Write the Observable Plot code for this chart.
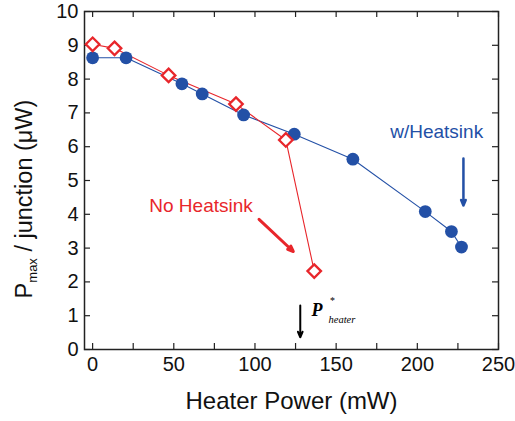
<!DOCTYPE html>
<html><head><meta charset="utf-8">
<script src="https://cdn.jsdelivr.net/npm/d3@7"></script>
<script src="https://cdn.jsdelivr.net/npm/@observablehq/plot@0.6"></script>
<style>body{margin:0;background:#fff}</style>
</head><body><div id="chart"></div>
<script>
// Data
const heatsinkPower = [0, 20.6, 55, 67.5, 93, 124.2, 160.3, 204.9, 221, 227.2];
const heatsinkPmax  = [8.63, 8.63, 7.86, 7.56, 6.94, 6.37, 5.63, 4.08, 3.49, 3.03];
const noHeatsinkPower = [0, 13.5, 46.8, 88.3, 119, 136.5];
const noHeatsinkPmax  = [9.03, 8.91, 8.11, 7.26, 6.2, 2.32];

const xTicks = [0, 25, 50, 75, 100, 125, 150, 175, 200, 225, 250];
const xTickLabels = [0, 50, 100, 150, 200, 250];
const yTicks = [0, 1, 2, 3, 4, 5, 6, 7, 8, 9, 10];

const xLabel = "Heater Power (mW)";
// annotation anchors (data coordinates)
const labelTexts = ["No Heatsink", "w/Heatsink"];
const labelX = [34.9, 183.3];
const labelY = [4.25, 6.43];
const arrowX1 = [102.5, 228.4, 127.9];
const arrowY1 = [3.85, 5.65, 1.30];
const arrowX2 = [123.6, 228.4, 127.9];
const arrowY2 = [2.90, 4.26, 0.36];
const pStarX = [134.8];
const pStarY = [1.17];

const BLUE = "#2350a6", RED = "#e8262b", AXIS = "#222";
const arrowColors = [RED, BLUE, "#000"];
const arrowWidths = [3, 2.5, 2];
const W = 515, H = 421, mL = 84, mR = 17, mT = 11, mB = 72;
const innerW = W - mL - mR, innerH = H - mT - mB, tl = 6;

const blue = heatsinkPower.map((x, i) => ({x, y: heatsinkPmax[i]}));
const red = noHeatsinkPower.map((x, i) => ({x, y: noHeatsinkPmax[i]}));
const labels = labelTexts.map((t, i) => ({t, x: labelX[i], y: labelY[i], c: i === 0 ? RED : BLUE}));
const arrows = arrowX1.map((x1, i) => ({x1, y1: arrowY1[i], x2: arrowX2[i], y2: arrowY2[i], c: arrowColors[i], w: arrowWidths[i]}));
const pStar = pStarX.map((x, i) => ({x, y: pStarY[i]}));
const serif = "'Liberation Serif', 'Times New Roman', serif";

const plot = Plot.plot({
  width: W, height: H,
  marginLeft: mL, marginRight: mR, marginTop: mT, marginBottom: mB,
  style: {fontFamily: "'Liberation Sans', Arial, sans-serif", background: "#fff"},
  x: {domain: [-5, 250], axis: null},
  y: {domain: [0, 10], axis: null},
  marks: [
    Plot.axisX(xTickLabels, {tickSize: 0, tickPadding: 7, fontSize: 20, fill: "#111", label: null}),
    Plot.axisY(yTicks, {tickSize: 0, tickPadding: 6, fontSize: 20, fill: "#111", label: null}),
    Plot.tickX(xTicks, {x: d => d, insetTop: innerH - tl, stroke: AXIS, strokeWidth: 1.2}),
    Plot.tickX(xTicks, {x: d => d, insetBottom: innerH - tl, stroke: AXIS, strokeWidth: 1.2}),
    Plot.tickY(yTicks, {y: d => d, insetRight: innerW - tl, stroke: AXIS, strokeWidth: 1.2}),
    Plot.tickY(yTicks, {y: d => d, insetLeft: innerW - tl, stroke: AXIS, strokeWidth: 1.2}),
    Plot.frame({stroke: AXIS, strokeWidth: 1.5}),
    Plot.line(blue, {x: "x", y: "y", stroke: BLUE, strokeWidth: 1.1}),
    Plot.line(red, {x: "x", y: "y", stroke: RED, strokeWidth: 1.1}),
    Plot.dot(blue, {x: "x", y: "y", r: 6.4, fill: BLUE, stroke: "none"}),
    Plot.dot(red, {x: "x", y: "y", r: 6.1, symbol: "diamond2", fill: "#fff", stroke: RED, strokeWidth: 2.3}),
    Plot.text(labels, {x: "x", y: "y", text: "t", fill: "c", textAnchor: "start", fontSize: 19}),
    Plot.arrow(arrows, {x1: "x1", y1: "y1", x2: "x2", y2: "y2", stroke: "c", strokeWidth: "w", headLength: 9, headAngle: 45}),
    Plot.text(pStar, {x: "x", y: "y", text: d => "P", textAnchor: "start", fontFamily: serif, fontStyle: "italic", fontWeight: "bold", fontSize: 18, fill: "#000"}),
    Plot.text(pStar, {x: "x", y: "y", text: d => "*", textAnchor: "start", dx: 18, dy: -9, fontFamily: serif, fontStyle: "italic", fontSize: 10, fill: "#000"}),
    Plot.text(pStar, {x: "x", y: "y", text: d => "heater", textAnchor: "start", dx: 17, dy: 10, fontFamily: serif, fontStyle: "italic", fontSize: 10.5, fill: "#000"}),
    Plot.text([xLabel], {frameAnchor: "bottom", text: d => d, dy: 59, fontSize: 24, fill: "#111"})
  ]
});

// Y-axis label with subscript
const svg = d3.select(plot);
const yl = svg.append("text")
  .attr("transform", "translate(32,199) rotate(-90)")
  .attr("text-anchor", "middle")
  .attr("font-family", "'Liberation Sans', Arial, sans-serif")
  .attr("font-size", 23.5)
  .attr("fill", "#111");
yl.append("tspan").text("P");
yl.append("tspan").attr("font-size", 13).attr("dy", "0.35em").text("max");
yl.append("tspan").attr("dy", "-0.2em").text(" / junction (\u03BCW)");

document.getElementById("chart").appendChild(plot);
</script>
</body></html>
